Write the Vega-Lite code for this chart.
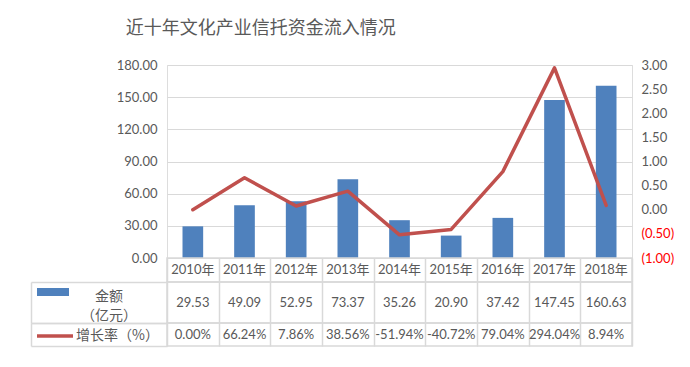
{
  "$schema": "https://vega.github.io/schema/vega-lite/v6.json",
  "padding": {"left": 29, "top": 19, "right": 10, "bottom": 10},
  "background": "white",
  "title": {"text": "近十年文化产业信托资金流入情况", "font": "Noto Sans CJK SC", "fontSize": 18, "fontWeight": "normal", "color": "#595959", "anchor": "middle", "offset": 21, "dx": -91},
  "datasets": {
    "d": [
      {"year": "2010年", "amount": 29.53, "rate": 0.0},
      {"year": "2011年", "amount": 49.09, "rate": 0.6624},
      {"year": "2012年", "amount": 52.95, "rate": 0.0786},
      {"year": "2013年", "amount": 73.37, "rate": 0.3856},
      {"year": "2014年", "amount": 35.26, "rate": -0.5194},
      {"year": "2015年", "amount": 20.90, "rate": -0.4072},
      {"year": "2016年", "amount": 37.42, "rate": 0.7904},
      {"year": "2017年", "amount": 147.45, "rate": 2.9404},
      {"year": "2018年", "amount": 160.63, "rate": 0.0894}
    ]
  },
  "spacing": 0,
  "bounds": "flush",
  "resolve": {"scale": {"x": "independent", "y": "independent"}},
  "vconcat": [
    {
      "width": 465,
      "height": 193,
      "data": {"name": "d"},
      "layer": [
        {
          "mark": {"type": "bar", "color": "#4f81bd"},
          "encoding": {
            "x": {"field": "year", "type": "ordinal", "sort": null, "scale": {"type": "band", "paddingInner": 0.6, "paddingOuter": 0.3}, "axis": null},
            "y": {"field": "amount", "type": "quantitative", "scale": {"domain": [0, 180], "nice": false, "zero": true},
              "axis": {"orient": "left", "values": [0, 30, 60, 90, 120, 150, 180], "format": ".2f", "grid": true, "gridColor": "#d9d9d9", "gridWidth": 1, "domain": false, "ticks": false, "labelPadding": 10, "title": null}},
            "fill": {"datum": "金额（亿元）", "type": "nominal", "scale": {"range": ["#4f81bd"]},
              "legend": {"orient": "none", "legendX": -130, "legendY": 216, "title": null, "padding": 0,
                "symbolType": "M-1,-0.5625H1V-0.0625H-1Z", "symbolSize": 1024, "symbolStrokeWidth": 0, "symbolOpacity": 1,
                "labelFont": "Noto Sans CJK SC", "labelFontSize": 14, "labelColor": "#595959",
                "labelAlign": "center", "labelOffset": 40,
                "labelExpr": "['金额', '（亿元）']"}}
          }
        },
        {
          "mark": {"type": "line", "strokeWidth": 3.5, "color": "#c0504d", "strokeCap": "round", "strokeJoin": "round"},
          "encoding": {
            "x": {"field": "year", "type": "ordinal", "sort": null},
            "y": {"field": "rate", "type": "quantitative", "scale": {"domain": [-1, 3], "nice": false, "zero": false},
              "axis": {"orient": "right", "values": [-1, -0.5, 0, 0.5, 1, 1.5, 2, 2.5, 3], "format": "(.2f", "grid": false, "domain": false, "ticks": false, "labelPadding": 9, "title": null,
                "labelColor": {"condition": {"test": "datum.value < 0", "value": "#ff0000"}, "value": "#595959"}}},
            "stroke": {"datum": "增长率（%）", "type": "nominal", "scale": {"range": ["#c0504d"]},
              "legend": {"orient": "none", "legendX": -132, "legendY": 251, "title": null, "padding": 0,
                "symbolType": "stroke", "symbolSize": 1296, "symbolStrokeWidth": 3.5,
                "labelFont": "Noto Sans CJK SC", "labelFontSize": 14, "labelColor": "#595959", "labelOffset": 1}}
          }
        }
      ],
      "resolve": {"scale": {"y": "independent"}}
    },
    {
      "width": 465,
      "height": 24,
      "data": {"name": "d"},
      "view": {"stroke": "#d9d9d9", "strokeWidth": 1.5},
      "mark": {"type": "text", "font": "Lato, Noto Sans CJK SC", "fontSize": 13, "color": "#595959"},
      "encoding": {
        "x": {"field": "year", "type": "ordinal", "sort": null, "scale": {"type": "band", "paddingInner": 0, "paddingOuter": 0},
          "axis": {"grid": true, "tickBand": "extent", "gridColor": "#d9d9d9", "gridWidth": 1.5, "labels": false, "ticks": false, "domain": false, "title": null}},
        "text": {"field": "year", "type": "nominal"}
      }
    },
    {
      "width": 465,
      "height": 41,
      "data": {"name": "d"},
      "view": {"stroke": "#d9d9d9", "strokeWidth": 1.5},
      "mark": {"type": "text", "font": "Lato", "fontSize": 13, "color": "#595959"},
      "encoding": {
        "x": {"field": "year", "type": "ordinal", "sort": null, "scale": {"type": "band", "paddingInner": 0, "paddingOuter": 0},
          "axis": {"grid": true, "tickBand": "extent", "gridColor": "#d9d9d9", "gridWidth": 1.5, "labels": false, "ticks": false, "domain": false, "title": null}},
        "y": {"datum": "金额", "type": "nominal", "scale": {"type": "band", "paddingInner": 0, "paddingOuter": 0},
          "axis": {"orient": "left", "offset": 136, "domain": true, "domainColor": "#d9d9d9", "domainWidth": 1.5, "ticks": true, "tickBand": "extent", "tickSize": -136, "tickColor": "#d9d9d9", "tickWidth": 1.5, "labels": false, "grid": false, "title": null}},
        "text": {"field": "amount", "type": "quantitative", "format": ".2f"}
      }
    },
    {
      "width": 465,
      "height": 23,
      "data": {"name": "d"},
      "view": {"stroke": "#d9d9d9", "strokeWidth": 1.5},
      "mark": {"type": "text", "font": "Lato", "fontSize": 13, "color": "#595959"},
      "encoding": {
        "x": {"field": "year", "type": "ordinal", "sort": null, "scale": {"type": "band", "paddingInner": 0, "paddingOuter": 0},
          "axis": {"grid": true, "tickBand": "extent", "gridColor": "#d9d9d9", "gridWidth": 1.5, "labels": false, "ticks": false, "domain": false, "title": null}},
        "y": {"datum": "增长率", "type": "nominal", "scale": {"type": "band", "paddingInner": 0, "paddingOuter": 0},
          "axis": {"orient": "left", "offset": 136, "domain": true, "domainColor": "#d9d9d9", "domainWidth": 1.5, "ticks": true, "tickBand": "extent", "tickSize": -136, "tickColor": "#d9d9d9", "tickWidth": 1.5, "labels": false, "grid": false, "title": null}},
        "text": {"field": "rate", "type": "quantitative", "format": ".2%"}
      }
    }
  ],
  "config": {
    "locale": {"number": {"decimal": ".", "thousands": ",", "grouping": [3], "currency": ["", ""], "minus": "-"}},
    "axis": {"labelFont": "Lato", "labelFontSize": 13, "labelColor": "#595959"},
    "style": {"guide-label": {"lineHeight": 19}},
    "font": "Lato"
  }
}
